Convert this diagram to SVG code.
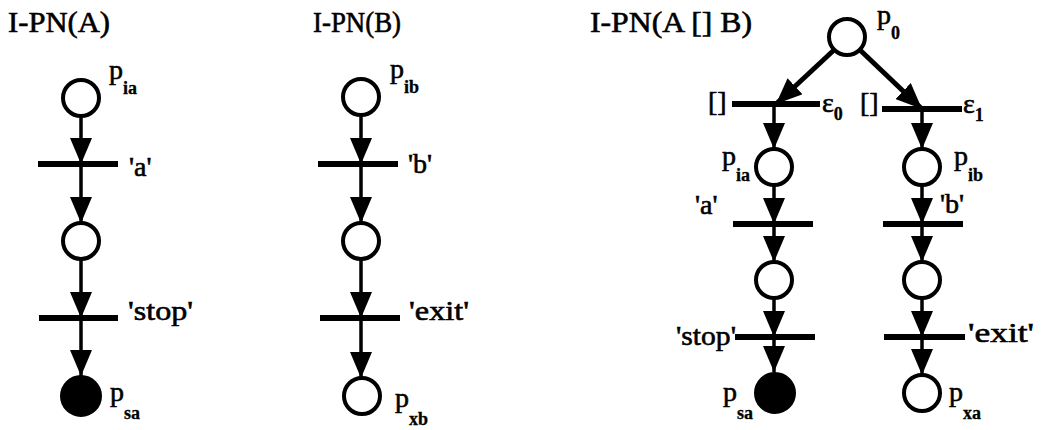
<svg xmlns="http://www.w3.org/2000/svg" width="1043" height="430" viewBox="0 0 1043 430">
<style>
text{font-family:"Liberation Serif","Times New Roman",serif;fill:#000;stroke:#000;stroke-width:0.6}
.title{font-size:29px}
.lbl{font-size:28px}
.pl{font-size:28px}
.sub{font-size:18px;font-weight:bold;stroke-width:0.3}
.place{fill:#fff;stroke:#000;stroke-width:4}
.tok{fill:#000;stroke:#000;stroke-width:2}
.bar{stroke:#000;stroke-width:6}
.arc{stroke:#000;stroke-width:3.5;fill:none;marker-end:url(#ah)}
.diag{stroke-width:5}
</style>
<defs>
<marker id="ah" markerUnits="userSpaceOnUse" markerWidth="26" markerHeight="22" viewBox="0 0 26 22" refX="26" refY="11" orient="auto">
<path d="M0,0 L26,11 L0,22 z" fill="#000"/>
</marker>
</defs>
<rect width="1043" height="430" fill="#fff"/>

<g id="titles">
<text class="title" x="8" y="32" textLength="102" lengthAdjust="spacingAndGlyphs">I-PN(A)</text>
<text class="title" x="313" y="32" textLength="88" lengthAdjust="spacingAndGlyphs">I-PN(B)</text>
<text class="title" x="590" y="32" textLength="162" lengthAdjust="spacingAndGlyphs">I-PN(A [] B)</text>
</g>

<g id="connectors">
<line class="arc" x1="81" y1="116" x2="81" y2="164"/>
<line class="arc" x1="81" y1="164" x2="81" y2="223"/>
<line class="arc" x1="81" y1="259" x2="81" y2="318"/>
<line class="arc" x1="81" y1="318" x2="81" y2="376"/>

<line class="arc" x1="361" y1="115" x2="361" y2="164"/>
<line class="arc" x1="361" y1="164" x2="361" y2="223"/>
<line class="arc" x1="361" y1="259" x2="361" y2="318"/>
<line class="arc" x1="361" y1="318" x2="361" y2="378"/>

<line class="arc diag" x1="834" y1="50" x2="776" y2="104"/>
<line class="arc diag" x1="860" y1="50" x2="922" y2="109"/>

<line class="arc" x1="774" y1="104" x2="774" y2="149"/>
<line class="arc" x1="774" y1="185" x2="774" y2="224"/>
<line class="arc" x1="774" y1="224" x2="774" y2="262"/>
<line class="arc" x1="774" y1="298" x2="774" y2="337"/>
<line class="arc" x1="774" y1="337" x2="774" y2="372"/>

<line class="arc" x1="922" y1="109" x2="922" y2="149"/>
<line class="arc" x1="922" y1="185" x2="922" y2="224"/>
<line class="arc" x1="922" y1="224" x2="922" y2="262"/>
<line class="arc" x1="922" y1="298" x2="922" y2="337"/>
<line class="arc" x1="922" y1="337" x2="922" y2="375"/>
</g>

<g id="A_pia"><circle class="place" cx="81" cy="98" r="18"/>
<text class="pl" x="109" y="79">p<tspan class="sub" dy="15">ia</tspan></text></g>
<g id="A_ta"><line class="bar" x1="38" y1="164" x2="118" y2="164"/>
<text class="lbl" x="129" y="176">'a'</text></g>
<g id="A_p1"><circle class="place" cx="81" cy="241" r="18"/></g>
<g id="A_tstop"><line class="bar" x1="39" y1="318" x2="118" y2="318"/>
<text class="lbl" x="128" y="320" textLength="65" lengthAdjust="spacingAndGlyphs">'stop'</text></g>
<g id="A_psa"><circle class="tok" cx="81" cy="396" r="20"/>
<text class="pl" x="110" y="401">p<tspan class="sub" dy="18">sa</tspan></text></g>

<g id="B_pib"><circle class="place" cx="361" cy="97" r="18"/>
<text class="pl" x="390" y="78">p<tspan class="sub" dy="15">ib</tspan></text></g>
<g id="B_tb"><line class="bar" x1="318" y1="164" x2="398" y2="164"/>
<text class="lbl" x="408" y="173">'b'</text></g>
<g id="B_p1"><circle class="place" cx="361" cy="241" r="18"/></g>
<g id="B_texit"><line class="bar" x1="320" y1="318" x2="400" y2="318"/>
<text class="lbl" x="409" y="320" textLength="60" lengthAdjust="spacingAndGlyphs">'exit'</text></g>
<g id="B_pxb"><circle class="place" cx="362" cy="396" r="18"/>
<text class="pl" x="395" y="407">p<tspan class="sub" dy="18">xb</tspan></text></g>

<g id="C_p0"><circle class="place" cx="847" cy="37" r="18"/>
<text class="pl" x="877" y="24">p<tspan class="sub" dy="15">0</tspan></text></g>
<g id="C_e0"><line class="bar" x1="732" y1="104" x2="820" y2="104"/>
<text class="lbl" x="708" y="111">[]</text>
<text class="lbl" x="822" y="112">ε<tspan class="sub" dy="8">0</tspan></text></g>
<g id="C_e1"><line class="bar" x1="882" y1="109" x2="962" y2="109"/>
<text class="lbl" x="860" y="112">[]</text>
<text class="lbl" x="963" y="113">ε<tspan class="sub" dy="8">1</tspan></text></g>

<g id="C_pia"><circle class="place" cx="774" cy="167" r="18"/>
<text class="pl" x="722" y="165">p<tspan class="sub" dy="16">ia</tspan></text></g>
<g id="C_ta"><line class="bar" x1="733" y1="224" x2="813" y2="224"/>
<text class="lbl" x="695" y="214">'a'</text></g>
<g id="C_p1"><circle class="place" cx="774" cy="280" r="18"/></g>
<g id="C_tstop"><line class="bar" x1="735" y1="337" x2="815" y2="337"/>
<text class="lbl" x="676" y="345" textLength="60" lengthAdjust="spacingAndGlyphs">'stop'</text></g>
<g id="C_psa"><circle class="tok" cx="775" cy="393" r="20"/>
<text class="pl" x="723" y="401">p<tspan class="sub" dy="18">sa</tspan></text></g>

<g id="C_pib"><circle class="place" cx="922" cy="167" r="18"/>
<text class="pl" x="954" y="165">p<tspan class="sub" dy="16">ib</tspan></text></g>
<g id="C_tb"><line class="bar" x1="883" y1="224" x2="963" y2="224"/>
<text class="lbl" x="940" y="213">'b'</text></g>
<g id="C_p2"><circle class="place" cx="922" cy="280" r="18"/></g>
<g id="C_texit"><line class="bar" x1="884" y1="337" x2="965" y2="337"/>
<text class="lbl" x="968" y="342" textLength="66" lengthAdjust="spacingAndGlyphs">'exit'</text></g>
<g id="C_pxa"><circle class="place" cx="922" cy="393" r="18"/>
<text class="pl" x="949" y="401">p<tspan class="sub" dy="18">xa</tspan></text></g>
</svg>
